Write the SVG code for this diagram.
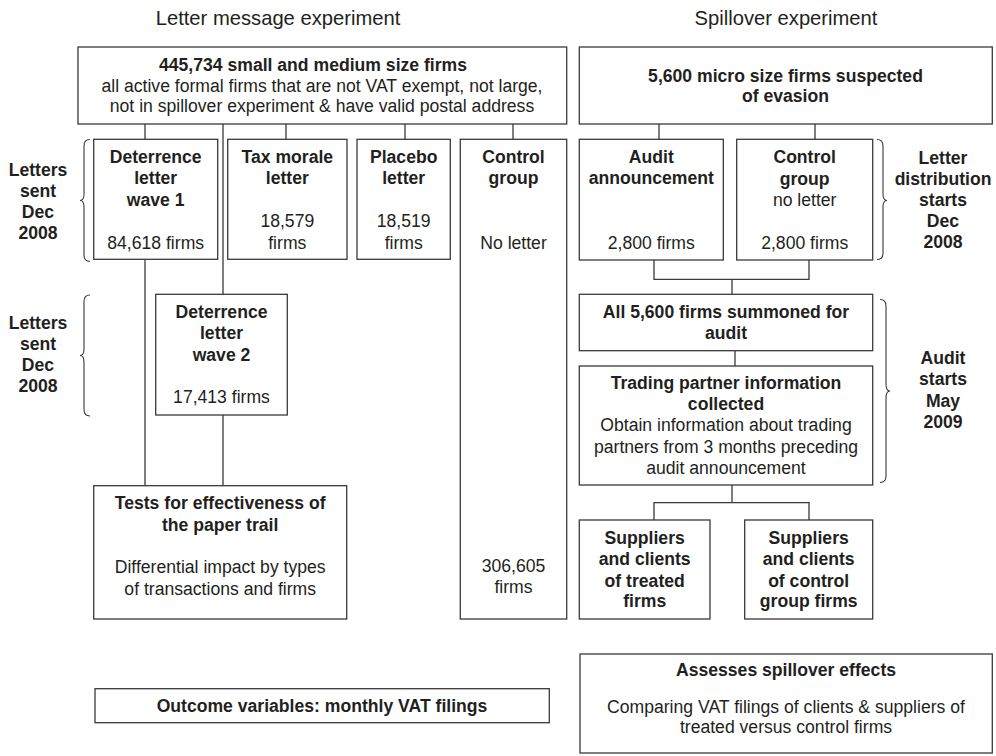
<svg xmlns="http://www.w3.org/2000/svg" width="996" height="756" viewBox="0 0 996 756">
<style>
  .bx{fill:#fff;stroke:#3a3a3a;stroke-width:1.3}
  .ln{fill:none;stroke:#3a3a3a;stroke-width:1.3}
  .br{fill:none;stroke:#3a3a3a;stroke-width:1.1}
  text{font-family:"Liberation Sans",Arial,Helvetica,sans-serif;fill:#231f20;font-size:17.6px;text-anchor:middle}
  .b{font-weight:bold}
  .h{font-size:20.2px}
</style>
<rect width="996" height="756" fill="#fff"/>
<g id="headers">
  <text class="h" x="278" y="25">Letter message experiment</text>
  <text class="h" x="786" y="25">Spillover experiment</text>
</g>
<g id="connectors">
  <path class="ln" d="M145 124V139.3M223 124V294.3M286 124V139.3M405 124V139.3M513 124V139.3"/>
  <path class="ln" d="M145 259.3V485.7M223 415V485.7"/>
  <path class="ln" d="M659 124V139.3M815 124V139.3"/>
  <path class="ln" d="M654 260V279.3H809V260M732 279.3V294.3"/>
  <path class="ln" d="M735 350.7V366"/>
  <path class="ln" d="M732 485V502.7M654 520V502.7H809V520"/>
</g>
<g id="braces">
  <path class="br" d="M90 139.5Q84 139.5 84 146V194Q84 200.5 80 200.5Q84 200.5 84 207V255Q84 261.5 90 261.5"/>
  <path class="br" d="M90 295Q84 295 84 301.5V349Q84 355.5 80 355.5Q84 355.5 84 362V409.5Q84 416 90 416"/>
  <path class="br" d="M877 139.5Q883 139.5 883 146V194Q883 200.5 887 200.5Q883 200.5 883 207V253Q883 259.5 877 259.5"/>
  <path class="br" d="M880 299.5Q886 299.5 886 306V384Q886 391 890 391Q886 391 886 398V476Q886 482.5 880 482.5"/>
</g>
<g id="label-letters1" class="b">
  <text class="b" x="38" y="176">Letters</text>
  <text class="b" x="38" y="197">sent</text>
  <text class="b" x="38" y="218">Dec</text>
  <text class="b" x="38" y="239">2008</text>
</g>
<g id="label-letters2">
  <text class="b" x="38" y="329">Letters</text>
  <text class="b" x="38" y="350">sent</text>
  <text class="b" x="38" y="371">Dec</text>
  <text class="b" x="38" y="392">2008</text>
</g>
<g id="label-distribution">
  <text class="b" x="943" y="163.5">Letter</text>
  <text class="b" x="943" y="184.5">distribution</text>
  <text class="b" x="943" y="205.5">starts</text>
  <text class="b" x="943" y="227">Dec</text>
  <text class="b" x="943" y="248">2008</text>
</g>
<g id="label-audit">
  <text class="b" x="943" y="364">Audit</text>
  <text class="b" x="943" y="385">starts</text>
  <text class="b" x="943" y="406.5">May</text>
  <text class="b" x="943" y="427.5">2009</text>
</g>
<g id="n-firms">
  <rect class="bx" x="78" y="47" width="488.7" height="77"/>
  <text class="b" x="313" y="70.7">445,734 small and medium size firms</text>
  <text x="322" y="91.7">all active formal firms that are not VAT exempt, not large,</text>
  <text x="322" y="112.3">not in spillover experiment &amp; have valid postal address</text>
</g>
<g id="n-micro">
  <rect class="bx" x="579.3" y="47" width="413" height="77"/>
  <text class="b" x="785.5" y="81.7">5,600 micro size firms suspected</text>
  <text class="b" x="785.5" y="102">of evasion</text>
</g>
<g id="n-wave1">
  <rect class="bx" x="93.7" y="139.3" width="124" height="120"/>
  <text class="b" x="155.7" y="163.3">Deterrence</text>
  <text class="b" x="155.7" y="184.3">letter</text>
  <text class="b" x="155.7" y="205.8">wave 1</text>
  <text x="155.7" y="249">84,618 firms</text>
</g>
<g id="n-taxmorale">
  <rect class="bx" x="227.7" y="139.3" width="119.3" height="120"/>
  <text class="b" x="287.3" y="163.3">Tax morale</text>
  <text class="b" x="287.3" y="184.3">letter</text>
  <text x="287.3" y="227">18,579</text>
  <text x="287.3" y="249">firms</text>
</g>
<g id="n-placebo">
  <rect class="bx" x="357" y="139.3" width="93.3" height="120"/>
  <text class="b" x="403.7" y="163.3">Placebo</text>
  <text class="b" x="403.7" y="184.3">letter</text>
  <text x="403.7" y="227">18,519</text>
  <text x="403.7" y="249">firms</text>
</g>
<g id="n-control">
  <rect class="bx" x="460.3" y="139.3" width="106.4" height="479.7"/>
  <text class="b" x="513.5" y="163.3">Control</text>
  <text class="b" x="513.5" y="184.3">group</text>
  <text x="513.5" y="249">No letter</text>
  <text x="513.5" y="571.5">306,605</text>
  <text x="513.5" y="592.5">firms</text>
</g>
<g id="n-wave2">
  <rect class="bx" x="155.7" y="294.3" width="131.6" height="120.7"/>
  <text class="b" x="221.5" y="318.3">Deterrence</text>
  <text class="b" x="221.5" y="339.3">letter</text>
  <text class="b" x="221.5" y="360.7">wave 2</text>
  <text x="221.5" y="403.3">17,413 firms</text>
</g>
<g id="n-tests">
  <rect class="bx" x="93.7" y="485.7" width="253" height="133.3"/>
  <text class="b" x="220.2" y="509.3">Tests for effectiveness of</text>
  <text class="b" x="220.2" y="530.7">the paper trail</text>
  <text x="220.2" y="573.3">Differential impact by types</text>
  <text x="220.2" y="595">of transactions and firms</text>
</g>
<g id="n-audit-ann">
  <rect class="bx" x="579.3" y="139.3" width="144" height="120.7"/>
  <text class="b" x="651.3" y="163.3">Audit</text>
  <text class="b" x="651.3" y="184.3">announcement</text>
  <text x="651.3" y="249">2,800 firms</text>
</g>
<g id="n-spill-control">
  <rect class="bx" x="736.7" y="139.3" width="136" height="120.7"/>
  <text class="b" x="804.7" y="163.3">Control</text>
  <text class="b" x="804.7" y="184.8">group</text>
  <text x="804.7" y="206">no letter</text>
  <text x="804.7" y="249">2,800 firms</text>
</g>
<g id="n-summoned">
  <rect class="bx" x="579.3" y="294.3" width="293.4" height="56.4"/>
  <text class="b" x="726" y="318.3">All 5,600 firms summoned for</text>
  <text class="b" x="726" y="339">audit</text>
</g>
<g id="n-trading">
  <rect class="bx" x="579.3" y="366" width="293.4" height="119"/>
  <text class="b" x="726" y="389">Trading partner information</text>
  <text class="b" x="726" y="410">collected</text>
  <text x="726" y="431">Obtain information about trading</text>
  <text x="726" y="452.5">partners from 3 months preceding</text>
  <text x="726" y="474">audit announcement</text>
</g>
<g id="n-sup-treated">
  <rect class="bx" x="579.3" y="520" width="130.7" height="99"/>
  <text class="b" x="644.7" y="544.3">Suppliers</text>
  <text class="b" x="644.7" y="565">and clients</text>
  <text class="b" x="644.7" y="586.5">of treated</text>
  <text class="b" x="644.7" y="607.3">firms</text>
</g>
<g id="n-sup-control">
  <rect class="bx" x="744.7" y="520" width="128" height="99"/>
  <text class="b" x="808.7" y="544.3">Suppliers</text>
  <text class="b" x="808.7" y="565">and clients</text>
  <text class="b" x="808.7" y="586.5">of control</text>
  <text class="b" x="808.7" y="607.3">group firms</text>
</g>
<g id="n-outcome">
  <rect class="bx" x="95" y="688.7" width="454.3" height="34"/>
  <text class="b" x="322" y="712.3">Outcome variables: monthly VAT filings</text>
</g>
<g id="n-assesses">
  <rect class="bx" x="580" y="654" width="412.3" height="99"/>
  <text class="b" x="786" y="676">Assesses spillover effects</text>
  <text x="786" y="712.7">Comparing VAT filings of clients &amp; suppliers of</text>
  <text x="786" y="733.3">treated versus control firms</text>
</g>
</svg>
